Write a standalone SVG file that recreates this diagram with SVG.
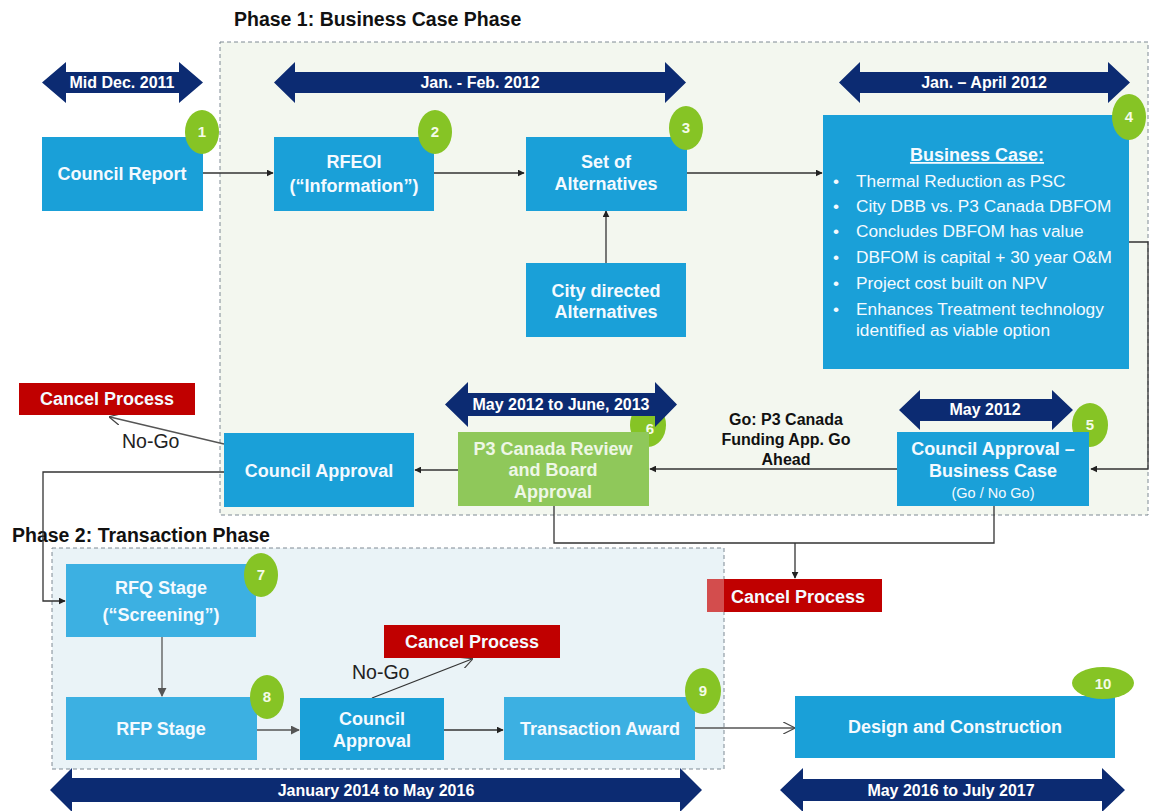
<svg xmlns="http://www.w3.org/2000/svg" width="1150" height="811" viewBox="0 0 1150 811">
<defs>
<style>
.phase{stroke:#7f8a94;stroke-width:1;stroke-dasharray:4 3}
.title{font-family:"Liberation Sans",Arial,sans-serif;font-weight:bold;font-size:19.5px;fill:#111}
.box{fill:#1aa0d8}
.box2{fill:#3cb0e2}
.green{fill:#8fc85a}
.red{fill:#c00000}
.tb{font-family:"Liberation Sans",Arial,sans-serif;font-weight:bold;font-size:18px;fill:#f4faff;text-anchor:middle}
.ta{font-family:"Liberation Sans",Arial,sans-serif;font-weight:bold;font-size:16px;fill:#ffffff;text-anchor:middle}
.dark{fill:#0c2b72}
.badge{fill:#86c425}
.bt{font-family:"Liberation Sans",Arial,sans-serif;font-weight:bold;font-size:15px;fill:#f4fbe8;text-anchor:middle}
.bl{font-family:"Liberation Sans",Arial,sans-serif;font-size:17.3px;fill:#f4faff}
.lbl{font-family:"Liberation Sans",Arial,sans-serif;font-size:19.5px;fill:#222}
.go{font-family:"Liberation Sans",Arial,sans-serif;font-weight:bold;font-size:16px;fill:#111;text-anchor:middle}
.conn{fill:none;stroke:#333;stroke-width:1.3}
.gray{fill:none;stroke:#555;stroke-width:1.3}
</style>
<marker id="ah" viewBox="0 0 10 10" refX="9" refY="5" markerWidth="7" markerHeight="7" markerUnits="userSpaceOnUse" orient="auto"><path d="M0,0 L10,5 L0,10 Z" fill="#222"/></marker>
<marker id="ahg" viewBox="0 0 10 10" refX="9" refY="5" markerWidth="9" markerHeight="9" markerUnits="userSpaceOnUse" orient="auto"><path d="M0,0 L10,5 L0,10 Z" fill="#555"/></marker>
<marker id="open" viewBox="0 0 10 10" refX="9" refY="5" markerWidth="12" markerHeight="12" markerUnits="userSpaceOnUse" orient="auto"><path d="M0,0 L10,5 L0,10" fill="none" stroke="#444" stroke-width="1"/></marker>
</defs>

<rect width="1150" height="811" fill="#ffffff"/>

<g id="phase1">
<rect x="220" y="42" width="928" height="473" fill="#f3f7ef" class="phase"/>
<text x="234" y="26" class="title">Phase 1: Business Case Phase</text>
</g>

<g id="phase2">
<rect x="52" y="548" width="672" height="221" fill="#eaf3f7" class="phase"/>
<text x="12" y="542" class="title">Phase 2: Transaction Phase</text>
</g>

<g id="cancel-mid">
<rect x="707" y="579" width="175" height="33" class="red"/>
<rect x="707" y="579" width="17" height="33" fill="#ffffff" fill-opacity="0.3"/>
<text x="798" y="603" class="tb">Cancel Process</text>
</g>

<g id="t-middec">
<path class="dark" d="M42,82.5 L66,62 L66,72 L179,72 L179,62 L203,82.5 L179,103 L179,93 L66,93 L66,103 Z"/>
<text x="122" y="88" class="ta">Mid Dec. 2011</text>
</g>
<g id="t-janfeb">
<path class="dark" d="M274,82.5 L295,62 L295,72 L665,72 L665,62 L686,82.5 L665,103 L665,93 L295,93 L295,103 Z"/>
<text x="480" y="88" class="ta">Jan.  - Feb. 2012</text>
</g>
<g id="t-janapr">
<path class="dark" d="M839,82.5 L860,62 L860,72 L1108,72 L1108,62 L1130,82.5 L1108,103 L1108,93 L860,93 L860,103 Z"/>
<text x="984" y="88" class="ta">Jan. – April 2012</text>
</g>

<g id="connectors">
<line class="conn" x1="203" y1="173" x2="273" y2="173" marker-end="url(#ah)"/>
<line class="conn" x1="434" y1="173" x2="524" y2="173" marker-end="url(#ah)"/>
<line class="conn" x1="687" y1="173" x2="822" y2="173" marker-end="url(#ah)"/>
<line class="conn" x1="606" y1="263" x2="606" y2="211" marker-end="url(#ah)"/>
<polyline class="conn" points="1129,242 1148,242 1148,469 1091,469" marker-end="url(#ah)"/>
<line class="conn" x1="897" y1="469" x2="650" y2="469" marker-end="url(#ah)"/>
<line class="conn" x1="458" y1="470" x2="415" y2="470" marker-end="url(#ah)"/>
<line class="gray" x1="224" y1="444" x2="110" y2="417" marker-end="url(#open)"/>
<polyline class="conn" points="224,472 43,472 43,601 65,601" marker-end="url(#ah)"/>
<polyline class="conn" points="554,506 554,543 994,543 994,506"/>
<line class="conn" x1="795" y1="543" x2="795" y2="578" marker-end="url(#ah)"/>
<line class="gray" x1="162" y1="637" x2="162" y2="696" marker-end="url(#ahg)"/>
<line class="gray" x1="257" y1="730" x2="299" y2="730" marker-end="url(#ahg)"/>
<line class="conn" x1="372" y1="698" x2="472" y2="659" marker-end="url(#open)"/>
<line class="conn" x1="444" y1="730" x2="503" y2="730" marker-end="url(#ah)"/>
<line class="gray" x1="695" y1="728" x2="794" y2="728" marker-end="url(#open)"/>
<text x="122" y="448" class="lbl">No-Go</text>
<text x="352" y="679" class="lbl">No-Go</text>
<text x="786" y="425" class="go">Go: P3 Canada</text>
<text x="786" y="445" class="go">Funding App. Go</text>
<text x="786" y="465" class="go">Ahead</text>
</g>

<g id="n1">
<rect x="42" y="137" width="161" height="74" class="box"/>
<text x="122" y="180" class="tb">Council Report</text>
<ellipse cx="202" cy="132" rx="17" ry="22" class="badge"/>
<text x="202" y="137" class="bt">1</text>
</g>
<g id="n2">
<rect x="274" y="137" width="160" height="74" class="box"/>
<text x="354" y="168" class="tb">RFEOI</text>
<text x="354" y="192" class="tb">(“Information”)</text>
<ellipse cx="435" cy="132" rx="17" ry="22" class="badge"/>
<text x="435" y="137" class="bt">2</text>
</g>
<g id="n3">
<rect x="526" y="137" width="161" height="74" class="box"/>
<text x="606" y="168" class="tb">Set of</text>
<text x="606" y="190" class="tb">Alternatives</text>
<ellipse cx="686" cy="128" rx="17" ry="22" class="badge"/>
<text x="686" y="133" class="bt">3</text>
</g>
<g id="n-city">
<rect x="526" y="263" width="160" height="74" class="box"/>
<text x="606" y="297" class="tb">City directed</text>
<text x="606" y="318" class="tb">Alternatives</text>
</g>
<g id="n4">
<rect x="823" y="115" width="306" height="254" class="box"/>
<text x="977" y="161" class="tb" text-decoration="underline">Business Case:</text>
<g class="bl">
<text x="833" y="187">•</text><text x="856" y="187">Thermal Reduction as PSC</text>
<text x="833" y="212">•</text><text x="856" y="212">City DBB vs. P3 Canada DBFOM</text>
<text x="833" y="237">•</text><text x="856" y="237">Concludes DBFOM has value</text>
<text x="833" y="263">•</text><text x="856" y="263">DBFOM is capital + 30 year O&amp;M</text>
<text x="833" y="289">•</text><text x="856" y="289">Project cost built on NPV</text>
<text x="833" y="315">•</text><text x="856" y="315">Enhances Treatment technology</text>
<text x="856" y="336">identified as viable option</text>
</g>
<ellipse cx="1129" cy="117" rx="17" ry="23" class="badge"/>
<text x="1129" y="122" class="bt">4</text>
</g>

<g id="n5">
<ellipse cx="1090" cy="425" rx="18" ry="22" class="badge"/>
<text x="1090" y="430" class="bt">5</text>
<rect x="897" y="432" width="192" height="74" class="box"/>
<text x="993" y="455" class="tb">Council Approval –</text>
<text x="993" y="477" class="tb">Business Case</text>
<text x="993" y="498" class="tb" style="font-size:14.5px;font-weight:normal">(Go / No Go)</text>
<path class="dark" d="M899,410 L920,390 L920,399 L1052,399 L1052,390 L1073,410 L1052,430 L1052,421 L920,421 L920,430 Z"/>
<text x="985" y="415" class="ta">May 2012</text>
</g>

<g id="n6">
<ellipse cx="648" cy="425" rx="18" ry="22" class="badge"/>
<text x="650" y="434" class="bt">6</text>
<rect x="458" y="432" width="191" height="74" class="green"/>
<text x="553" y="455" class="tb" style="fill:#eef7e6">P3 Canada Review</text>
<text x="553" y="476" class="tb" style="fill:#eef7e6">and Board</text>
<text x="553" y="498" class="tb" style="fill:#eef7e6">Approval</text>
<path class="dark" d="M445,404.5 L468,382 L468,393 L655,393 L655,382 L677,404.5 L655,427 L655,416 L468,416 L468,427 Z"/>
<text x="561" y="410" class="ta">May 2012 to June, 2013</text>
</g>

<g id="n-ca1">
<rect x="224" y="433" width="190" height="74" class="box"/>
<text x="319" y="477" class="tb">Council Approval</text>
</g>
<g id="cancel-1">
<rect x="19" y="383" width="176" height="32" class="red"/>
<text x="107" y="405" class="tb">Cancel Process</text>
</g>

<g id="n7">
<rect x="66" y="564" width="190" height="73" class="box2"/>
<text x="161" y="594" class="tb">RFQ Stage</text>
<text x="161" y="621" class="tb">(“Screening”)</text>
<ellipse cx="261" cy="575" rx="17" ry="22" class="badge"/>
<text x="261" y="580" class="bt">7</text>
</g>
<g id="n8">
<rect x="66" y="697" width="191" height="63" class="box2"/>
<text x="161" y="735" class="tb">RFP Stage</text>
<ellipse cx="267" cy="697" rx="17" ry="22" class="badge"/>
<text x="267" y="702" class="bt">8</text>
</g>
<g id="n-ca2">
<rect x="300" y="698" width="144" height="62" class="box"/>
<text x="372" y="725" class="tb">Council</text>
<text x="372" y="747" class="tb">Approval</text>
</g>
<g id="cancel-2">
<rect x="384" y="625" width="176" height="33" class="red"/>
<text x="472" y="648" class="tb">Cancel Process</text>
</g>
<g id="n9">
<rect x="504" y="697" width="191" height="63" class="box2"/>
<text x="600" y="735" class="tb">Transaction Award</text>
<ellipse cx="703" cy="691" rx="18" ry="23" class="badge"/>
<text x="703" y="696" class="bt">9</text>
</g>
<g id="n10">
<rect x="795" y="696" width="320" height="62" class="box"/>
<text x="955" y="733" class="tb">Design and Construction</text>
<ellipse cx="1103" cy="683" rx="31" ry="16" class="badge"/>
<text x="1103" y="689" class="bt">10</text>
</g>

<g id="t-jan2014">
<path class="dark" d="M50,790 L72,768 L72,778 L680,778 L680,768 L702,790 L680,812 L680,802 L72,802 L72,812 Z"/>
<text x="376" y="796" class="ta">January 2014 to May 2016</text>
</g>
<g id="t-may2016">
<path class="dark" d="M780,790 L803,768 L803,779 L1102,779 L1102,768 L1125,790 L1102,812 L1102,801 L803,801 L803,812 Z"/>
<text x="951" y="796" class="ta">May 2016 to July 2017</text>
</g>
</svg>
